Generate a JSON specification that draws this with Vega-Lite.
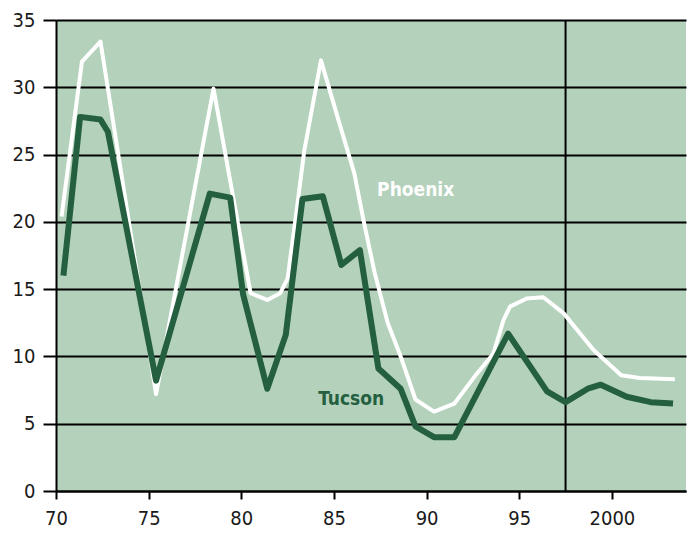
{
  "$schema": "https://vega.github.io/schema/vega-lite/v6.json",
  "width": 630,
  "height": 471,
  "autosize": {"type": "none"},
  "padding": {"left": 56, "top": 20, "right": 6, "bottom": 42},
  "background": "white",
  "view": {"fill": "#b3d1bb", "stroke": null},
  "config": {
    "axis": {
      "labelFont": "Liberation Sans Narrow, DejaVu Sans Condensed, Liberation Sans",
      "labelFontSize": 20,
      "labelColor": "#1a1a1a",
      "domainColor": "#000000",
      "domainWidth": 2,
      "tickColor": "#000000",
      "tickWidth": 2,
      "title": null
    }
  },
  "datasets": {
    "phoenix": [
      {"year": 1970.3, "value": 20.4},
      {"year": 1971.4, "value": 31.9},
      {"year": 1972.4, "value": 33.4},
      {"year": 1975.4, "value": 7.2},
      {"year": 1978.5, "value": 29.9},
      {"year": 1980.5, "value": 14.7},
      {"year": 1981.4, "value": 14.2},
      {"year": 1982.1, "value": 14.7},
      {"year": 1982.5, "value": 15.8},
      {"year": 1983.0, "value": 21.0},
      {"year": 1983.4, "value": 25.3},
      {"year": 1984.3, "value": 32.0},
      {"year": 1985.3, "value": 27.3},
      {"year": 1986.1, "value": 23.6},
      {"year": 1986.6, "value": 20.1},
      {"year": 1987.2, "value": 16.2},
      {"year": 1987.9, "value": 12.5},
      {"year": 1988.6, "value": 10.0},
      {"year": 1989.4, "value": 6.8},
      {"year": 1990.4, "value": 5.9},
      {"year": 1991.5, "value": 6.5},
      {"year": 1992.7, "value": 8.7},
      {"year": 1993.6, "value": 10.2},
      {"year": 1994.15, "value": 12.7},
      {"year": 1994.5, "value": 13.7},
      {"year": 1995.4, "value": 14.3},
      {"year": 1996.3, "value": 14.4},
      {"year": 1997.4, "value": 13.2},
      {"year": 1999.0, "value": 10.5},
      {"year": 2000.5, "value": 8.6},
      {"year": 2001.5, "value": 8.4},
      {"year": 2003.4, "value": 8.3}
    ],
    "tucson": [
      {"year": 1970.4, "value": 16.0},
      {"year": 1971.3, "value": 27.8},
      {"year": 1972.4, "value": 27.6},
      {"year": 1972.8, "value": 26.7},
      {"year": 1975.4, "value": 8.2},
      {"year": 1978.3, "value": 22.1},
      {"year": 1979.4, "value": 21.8},
      {"year": 1980.1, "value": 14.6},
      {"year": 1981.4, "value": 7.6},
      {"year": 1982.4, "value": 11.6},
      {"year": 1983.3, "value": 21.7},
      {"year": 1984.4, "value": 21.9},
      {"year": 1985.4, "value": 16.8},
      {"year": 1986.4, "value": 17.9},
      {"year": 1987.4, "value": 9.1},
      {"year": 1988.6, "value": 7.6},
      {"year": 1989.4, "value": 4.8},
      {"year": 1990.4, "value": 4.0},
      {"year": 1991.5, "value": 4.0},
      {"year": 1994.4, "value": 11.7},
      {"year": 1996.5, "value": 7.4},
      {"year": 1997.5, "value": 6.6},
      {"year": 1998.7, "value": 7.6},
      {"year": 1999.4, "value": 7.9},
      {"year": 2000.8, "value": 7.0},
      {"year": 2002.1, "value": 6.6},
      {"year": 2003.3, "value": 6.5}
    ],
    "labels": [
      {"year": 1984.15, "value": 6.8, "city": "Tucson", "colour": "#245f40"},
      {"year": 1987.33, "value": 22.4, "city": "Phoenix", "colour": "#ffffff"}
    ],
    "marker": [{"year": 1997.5}]
  },
  "encoding": {
    "x": {
      "field": "year",
      "type": "quantitative",
      "scale": {"domain": [1970, 2004], "nice": false, "zero": false},
      "axis": {
        "values": [1970, 1975, 1980, 1985, 1990, 1995, 2000],
        "labelExpr": "datum.value >= 2000 ? '2000' : format(datum.value - 1900, 'd')",
        "tickSize": 8,
        "labelPadding": 9,
        "grid": false,
        "labelFlush": false
      }
    },
    "y": {
      "field": "value",
      "type": "quantitative",
      "scale": {"domain": [0, 35], "nice": false},
      "axis": {
        "values": [0, 5, 10, 15, 20, 25, 30, 35],
        "tickSize": 13,
        "labelPadding": 8,
        "grid": true,
        "gridColor": "#000000",
        "gridWidth": 2,
        "gridOpacity": 1
      }
    }
  },
  "layer": [
    {
      "data": {"name": "marker"},
      "mark": {"type": "rule", "color": "#000000", "strokeWidth": 2},
      "encoding": {"x": {"field": "year", "type": "quantitative"}, "y": null}
    },
    {
      "data": {"name": "phoenix"},
      "mark": {"type": "line", "color": "#ffffff", "strokeWidth": 4, "strokeJoin": "round"}
    },
    {
      "data": {"name": "tucson"},
      "mark": {"type": "line", "color": "#245f40", "strokeWidth": 6, "strokeJoin": "round"}
    },
    {
      "data": {"name": "labels"},
      "mark": {
        "type": "text",
        "align": "left",
        "baseline": "middle",
        "font": "Liberation Sans Narrow, DejaVu Sans Condensed, Liberation Sans",
        "fontWeight": "bold",
        "fontSize": 19
      },
      "encoding": {
        "text": {"field": "city", "type": "nominal"},
        "color": {"field": "colour", "type": "nominal", "scale": null}
      }
    }
  ]
}
